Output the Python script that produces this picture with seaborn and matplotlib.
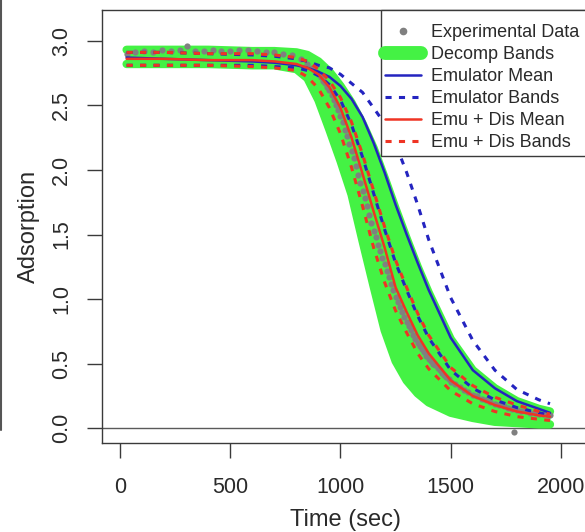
import numpy as np
import pandas as pd
import matplotlib
matplotlib.use("Agg")
import matplotlib.pyplot as plt
from matplotlib.lines import Line2D
from matplotlib.patches import Rectangle
import seaborn as sns

sns.set_style("white")
plt.rcParams["font.family"] = ["Liberation Sans", "DejaVu Sans"]

# ---- model outputs on a common time grid (sec) ----
time_grid = [30, 200, 400, 600, 700, 800, 850, 900, 950, 1000, 1050, 1100,
             1150, 1200, 1250, 1300, 1350, 1400, 1500, 1600, 1700, 1800, 1900, 1950]

decomp_lower = [2.82, 2.82, 2.82, 2.81, 2.81, 2.78, 2.71, 2.54, 2.31, 2.07, 1.81, 1.45,
                1.10, 0.76, 0.52, 0.37, 0.27, 0.20, 0.12, 0.08, 0.05, 0.04, 0.03, 0.03]
decomp_upper = [2.93, 2.93, 2.93, 2.92, 2.92, 2.91, 2.89, 2.84, 2.76, 2.65, 2.52, 2.36,
                2.17, 1.94, 1.70, 1.47, 1.25, 1.05, 0.69, 0.45, 0.31, 0.21, 0.15, 0.13]

emu_mean = [2.87, 2.86, 2.85, 2.84, 2.83, 2.81, 2.79, 2.76, 2.72, 2.65, 2.55, 2.41,
            2.21, 1.98, 1.73, 1.50, 1.28, 1.07, 0.70, 0.45, 0.31, 0.21, 0.15, 0.12]
emu_lower = [2.81, 2.81, 2.81, 2.81, 2.80, 2.79, 2.77, 2.73, 2.66, 2.54, 2.35, 2.10,
             1.82, 1.54, 1.28, 1.07, 0.87, 0.70, 0.45, 0.31, 0.22, 0.16, 0.12, 0.10]
emu_upper = [2.91, 2.91, 2.90, 2.89, 2.88, 2.86, 2.84, 2.81, 2.79, 2.74, 2.67, 2.60,
             2.48, 2.36, 2.20, 1.98, 1.73, 1.46, 1.01, 0.68, 0.45, 0.30, 0.22, 0.19]

emudis_mean = [2.86, 2.86, 2.85, 2.85, 2.84, 2.82, 2.79, 2.74, 2.64, 2.48, 2.25, 1.97,
               1.68, 1.40, 1.09, 0.90, 0.72, 0.58, 0.37, 0.25, 0.18, 0.13, 0.10, 0.09]
emudis_lower = [2.81, 2.81, 2.81, 2.80, 2.79, 2.77, 2.72, 2.63, 2.48, 2.28, 2.02, 1.72,
                1.40, 1.13, 0.91, 0.74, 0.58, 0.46, 0.29, 0.19, 0.13, 0.09, 0.07, 0.06]
emudis_upper = [2.91, 2.91, 2.90, 2.90, 2.89, 2.87, 2.84, 2.78, 2.69, 2.56, 2.37, 2.12,
                1.84, 1.56, 1.30, 1.09, 0.89, 0.72, 0.47, 0.33, 0.24, 0.18, 0.13, 0.11]

# ---- measured adsorption ----
exp_time = [30, 70, 110, 150, 190, 230, 270, 305, 340, 380, 420, 460, 500, 540, 580,
            620, 660, 700, 740, 780, 820, 850, 870,
            880, 890, 900, 910, 920, 930, 940, 950, 960, 970, 980, 990,
            1000, 1010, 1020, 1030, 1040, 1050, 1060, 1070, 1080, 1090,
            1100, 1110, 1120, 1130, 1140, 1150, 1160, 1170, 1180, 1190,
            1200, 1210, 1220, 1230, 1240, 1250, 1260, 1270, 1280, 1290,
            1300, 1310, 1320, 1330, 1340, 1350, 1360, 1370, 1380, 1390,
            1400, 1410, 1420, 1430, 1440, 1450, 1460, 1470, 1480, 1490, 1500,
            1520, 1540, 1560, 1580, 1600, 1620, 1640, 1660, 1680, 1700,
            1720, 1740, 1760, 1780, 1785, 1800, 1820, 1840, 1860, 1880,
            1900, 1920, 1940, 1950]
exp_adsorption = [2.90, 2.91, 2.92, 2.91, 2.93, 2.92, 2.93, 2.96, 2.92, 2.92, 2.93, 2.92,
                  2.92, 2.93, 2.93, 2.92, 2.91, 2.91, 2.90, 2.89, 2.86, 2.82, 2.79,
                  2.77, 2.76, 2.74, 2.72, 2.69, 2.67, 2.64, 2.62, 2.58, 2.54, 2.50, 2.46,
                  2.42, 2.37, 2.31, 2.26, 2.20, 2.15, 2.09, 2.03, 1.96, 1.90,
                  1.84, 1.78, 1.72, 1.65, 1.59, 1.53, 1.48, 1.42, 1.37, 1.32,
                  1.27, 1.22, 1.17, 1.12, 1.07, 1.02, 0.98, 0.94, 0.90, 0.86,
                  0.82, 0.79, 0.76, 0.72, 0.69, 0.66, 0.64, 0.61, 0.59, 0.56,
                  0.54, 0.52, 0.50, 0.49, 0.47, 0.45, 0.43, 0.41, 0.40, 0.38, 0.36,
                  0.34, 0.32, 0.30, 0.28, 0.26, 0.25, 0.23, 0.22, 0.20, 0.19,
                  0.18, 0.17, 0.16, 0.15, -0.03, 0.14, 0.13, 0.13, 0.12, 0.12,
                  0.11, 0.11, 0.10, 0.10]

x_ticks = [0, 500, 1000, 1500, 2000]
y_ticks = [0.0, 0.5, 1.0, 1.5, 2.0, 2.5, 3.0]
x_label = "Time (sec)"
y_label = "Adsorption"
legend_labels = ["Experimental Data", "Decomp Bands", "Emulator Mean",
                 "Emulator Bands", "Emu + Dis Mean", "Emu + Dis Bands"]

GREEN = "#44f244"
BLUE = "#2424c0"
RED = "#ef3424"
GRAY = "#808080"
AXC = "#3a3a3a"
TXT = "#2a2a2a"
DASH = (0, (2.0, 2.4))

W, H = 585, 532
fig = plt.figure(figsize=(W / 100, H / 100), dpi=100)
ax = fig.add_axes([102 / W, (H - 443) / H, 488 / W, 433 / H])

# zero reference line
ax.axhline(0.0, color="#5a5a5a", lw=1.0, zorder=1)

# decomposition bands: filled envelope with thick rounded edges
ax.fill_between(time_grid, decomp_lower, decomp_upper, color=GREEN, lw=0, zorder=2)
for band in (decomp_lower, decomp_upper):
    sns.lineplot(x=time_grid, y=band, ax=ax, color=GREEN, lw=6,
                 solid_capstyle="round", zorder=2)

# experimental points
sns.scatterplot(x=exp_time, y=exp_adsorption, ax=ax, color=GRAY, s=20,
                linewidth=0, zorder=3)

# emulator
sns.lineplot(x=time_grid, y=emu_mean, ax=ax, color=BLUE, lw=1.8, zorder=4)
for band in (emu_lower, emu_upper):
    sns.lineplot(x=time_grid, y=band, ax=ax, color=BLUE, lw=2.2,
                 linestyle=DASH, zorder=4)

# emulator + discrepancy
sns.lineplot(x=time_grid, y=emudis_mean, ax=ax, color=RED, lw=1.8, zorder=5)
for band in (emudis_lower, emudis_upper):
    sns.lineplot(x=time_grid, y=band, ax=ax, color=RED, lw=2.2,
                 linestyle=DASH, zorder=5)

# axes in the base-graphics look
ax.set_xlim(-81.6, 2131.5)
ax.set_ylim(-0.114, 3.238)
ax.set_xticks(x_ticks)
ax.set_yticks(y_ticks)
ax.set_xticklabels([str(v) for v in x_ticks])
ax.set_yticklabels([f"{v:.1f}" for v in y_ticks])
for side in ("left", "bottom", "top"):
    ax.spines[side].set_color(AXC)
    ax.spines[side].set_linewidth(1.0)
ax.spines["right"].set_visible(False)
ax.tick_params(axis="both", direction="out", length=10.5, width=1.0,
               color=AXC, labelsize=15.5, labelcolor=TXT,
               bottom=True, left=True)
ax.tick_params(axis="x", pad=14)
ax.tick_params(axis="y", pad=11)
for lab in ax.get_yticklabels():
    lab.set_rotation(90)
    lab.set_va("center")
    lab.set_ha("right")
ax.set_xlabel(x_label, fontsize=17, color=TXT, labelpad=8)
ax.set_ylabel(y_label, fontsize=17, color=TXT, labelpad=8)
ax.grid(False)

# legend
handles = [
    Line2D([], [], color=GRAY, marker="o", markersize=4.5, lw=0),
    Line2D([], [], color=GREEN, lw=10, solid_capstyle="round"),
    Line2D([], [], color=BLUE, lw=1.8),
    Line2D([], [], color=BLUE, lw=2.2, linestyle=DASH),
    Line2D([], [], color=RED, lw=1.8),
    Line2D([], [], color=RED, lw=2.2, linestyle=DASH),
]
fig.add_artist(Rectangle((381 / W, (H - 156) / H), 260 / W, 146 / H,
                         transform=fig.transFigure, fill=True, facecolor="white",
                         edgecolor=AXC, lw=1.0, zorder=10))
leg = fig.legend(handles, legend_labels, loc="upper left",
                 bbox_to_anchor=(385 / W, (H - 24) / H), frameon=False,
                 fontsize=13, handlelength=2.0, handletextpad=0.55,
                 labelspacing=0.28, borderpad=0.0, borderaxespad=0.0)
leg.set_zorder(11)
for t in leg.get_texts():
    t.set_color(TXT)

# edge of the neighbouring panel
fig.add_artist(Line2D([1 / W, 1 / W], [1.0, (H - 430) / H], transform=fig.transFigure,
                      color="#555555", lw=1.5))

fig.savefig("out.png", dpi=100)
